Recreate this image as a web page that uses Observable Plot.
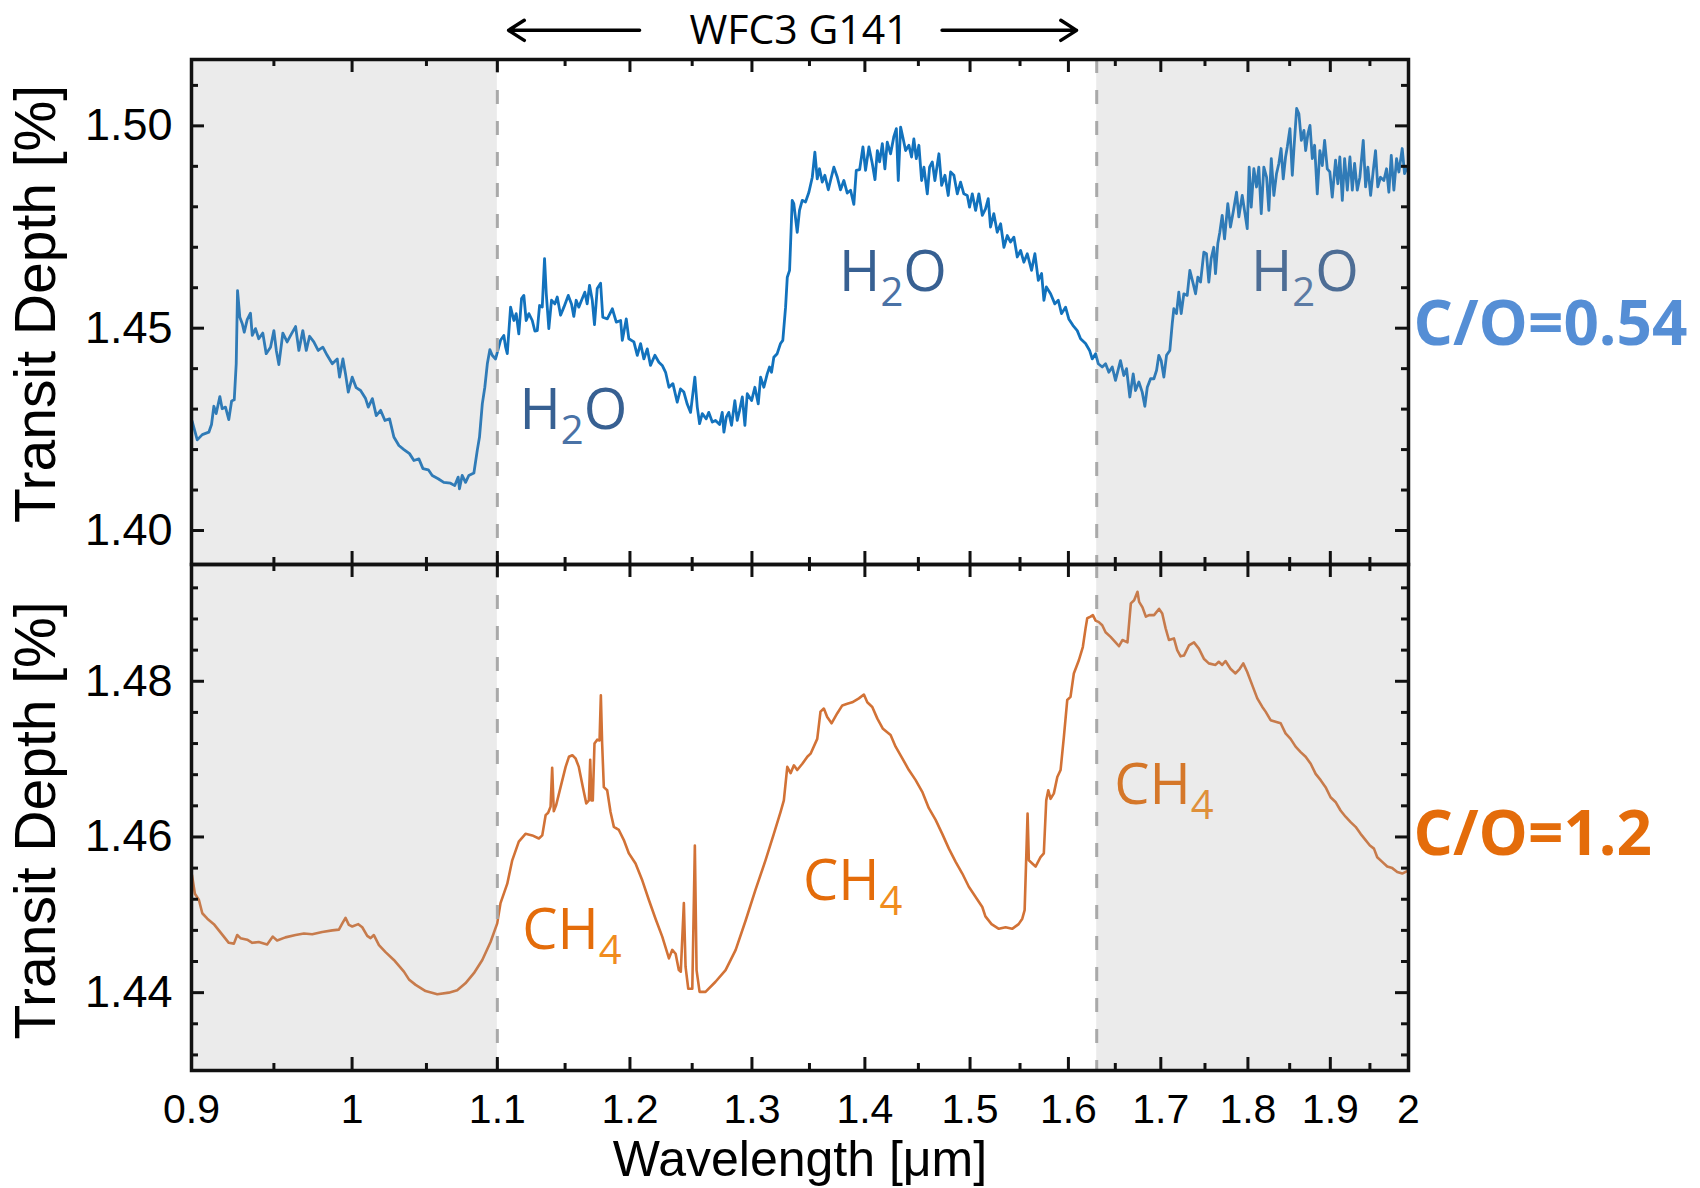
<!DOCTYPE html>
<html><head><meta charset="utf-8">
<script src="https://cdn.jsdelivr.net/npm/d3@7"></script>
<script src="https://cdn.jsdelivr.net/npm/@observablehq/plot@0.6"></script>
<style>
html,body{margin:0;padding:0;background:#fff;}
#wrap{position:relative;width:1700px;height:1188px;overflow:hidden;background:#fff;}
#top,#bot{position:absolute;left:0;}
#top{top:0;} #bot{top:564px;}
svg{overflow:visible;}
</style></head><body>
<div id="wrap"><div id="top"></div><div id="bot"></div></div>
<script>
// ---------- data: [wavelength (µm), transit depth (%)] ----------
const spectrumCO054 = [
[0.9004,1.4270],[0.9034,1.4224],[0.9064,1.4237],[0.9103,1.4243],[0.9119,1.4262],[0.9133,1.4307],[0.9147,1.4289],[0.9169,1.4331],[0.9183,1.4301],[0.9203,1.4305],
[0.9223,1.4274],[0.9240,1.4320],[0.9256,1.4323],[0.9268,1.4412],[0.9276,1.4593],[0.9290,1.4527],[0.9305,1.4511],[0.9317,1.4490],[0.9335,1.4521],[0.9355,1.4537],
[0.9366,1.4482],[0.9386,1.4499],[0.9406,1.4474],[0.9431,1.4488],[0.9452,1.4437],[0.9479,1.4453],[0.9500,1.4494],[0.9515,1.4445],[0.9531,1.4410],[0.9556,1.4488],
[0.9583,1.4466],[0.9610,1.4486],[0.9636,1.4504],[0.9657,1.4445],[0.9682,1.4494],[0.9704,1.4445],[0.9725,1.4480],[0.9752,1.4466],[0.9780,1.4445],[0.9810,1.4453],
[0.9838,1.4433],[0.9871,1.4412],[0.9903,1.4424],[0.9918,1.4379],[0.9940,1.4424],[0.9957,1.4387],[0.9975,1.4342],[1.0001,1.4379],[1.0027,1.4353],[1.0056,1.4346],
[1.0089,1.4326],[1.0107,1.4305],[1.0134,1.4326],[1.0160,1.4284],[1.0189,1.4297],[1.0218,1.4272],[1.0249,1.4276],[1.0278,1.4231],[1.0312,1.4210],[1.0346,1.4200],
[1.0384,1.4190],[1.0414,1.4173],[1.0448,1.4177],[1.0476,1.4153],[1.0513,1.4150],[1.0540,1.4136],[1.0581,1.4128],[1.0620,1.4119],[1.0667,1.4117],[1.0697,1.4111],
[1.0721,1.4132],[1.0730,1.4103],[1.0749,1.4136],[1.0773,1.4119],[1.0796,1.4136],[1.0832,1.4142],[1.0856,1.4198],[1.0872,1.4231],[1.0892,1.4313],[1.0910,1.4354],
[1.0928,1.4412],[1.0946,1.4447],[1.0963,1.4433],[1.0987,1.4424],[1.1023,1.4470],[1.1047,1.4482],
[1.1060,1.4453],[1.1072,1.4437],[1.1096,1.4552],[1.1120,1.4519],[1.1137,1.4536],[1.1156,1.4486],[1.1176,1.4573],[1.1193,1.4581],[1.1210,1.4519],[1.1230,1.4536],
[1.1255,1.4519],[1.1274,1.4493],[1.1292,1.4494],[1.1309,1.4556],[1.1329,1.4552],[1.1346,1.4672],[1.1359,1.4585],[1.1378,1.4499],[1.1398,1.4569],[1.1423,1.4560],
[1.1441,1.4577],[1.1466,1.4532],[1.1491,1.4552],[1.1524,1.4581],[1.1549,1.4559],[1.1566,1.4529],[1.1584,1.4569],[1.1604,1.4552],[1.1625,1.4569],[1.1650,1.4589],
[1.1668,1.4560],[1.1686,1.4606],[1.1707,1.4569],[1.1724,1.4509],[1.1745,1.4598],[1.1771,1.4611],[1.1788,1.4527],[1.1823,1.4523],[1.1862,1.4548],[1.1893,1.4515],
[1.1927,1.4519],[1.1940,1.4470],[1.1971,1.4523],[1.1991,1.4474],[1.2031,1.4466],[1.2058,1.4433],[1.2084,1.4462],[1.2110,1.4424],[1.2137,1.4449],[1.2163,1.4408],
[1.2198,1.4433],[1.2230,1.4416],[1.2257,1.4408],[1.2284,1.4391],[1.2311,1.4354],[1.2343,1.4363],[1.2378,1.4317],[1.2405,1.4350],[1.2432,1.4342],[1.2460,1.4312],
[1.2487,1.4292],[1.2522,1.4379],[1.2542,1.4305],[1.2561,1.4264],[1.2583,1.4289],[1.2616,1.4276],[1.2637,1.4292],[1.2666,1.4268],[1.2693,1.4272],[1.2727,1.4262],
[1.2749,1.4292],[1.2763,1.4243],[1.2783,1.4280],[1.2804,1.4292],[1.2827,1.4260],[1.2855,1.4321],[1.2875,1.4272],[1.2895,1.4297],[1.2918,1.4330],[1.2940,1.4260],
[1.2960,1.4338],[1.2997,1.4321],[1.3025,1.4354],[1.3054,1.4313],[1.3074,1.4379],[1.3102,1.4354],[1.3131,1.4387],[1.3151,1.4404],[1.3168,1.4391],[1.3188,1.4428],
[1.3217,1.4437],[1.3246,1.4462],[1.3266,1.4470],[1.3290,1.4552],[1.3305,1.4626],[1.3325,1.4643],[1.3348,1.4816],[1.3362,1.4808],[1.3392,1.4737],[1.3412,1.4791],
[1.3436,1.4816],[1.3465,1.4812],
[1.3495,1.4836],[1.3525,1.4873],[1.3548,1.4935],[1.3569,1.4869],[1.3589,1.4894],[1.3614,1.4861],[1.3637,1.4878],[1.3668,1.4842],[1.3688,1.4865],[1.3718,1.4898],
[1.3749,1.4873],[1.3778,1.4842],[1.3808,1.4865],[1.3839,1.4834],[1.3869,1.4841],[1.3899,1.4806],[1.3921,1.4890],[1.3952,1.4892],[1.3982,1.4948],[1.4006,1.4890],
[1.4037,1.4948],[1.4068,1.4907],[1.4093,1.4867],[1.4115,1.4939],[1.4136,1.4911],[1.4161,1.4956],[1.4185,1.4894],[1.4207,1.4960],[1.4238,1.4931],[1.4269,1.4974],
[1.4292,1.4993],[1.4310,1.4865],[1.4332,1.4997],[1.4353,1.4972],[1.4379,1.4939],[1.4410,1.4952],[1.4435,1.4923],[1.4457,1.4968],[1.4480,1.4919],[1.4505,1.4952],
[1.4531,1.4865],[1.4553,1.4898],[1.4585,1.4832],[1.4607,1.4898],[1.4633,1.4911],[1.4658,1.4865],[1.4697,1.4931],[1.4723,1.4853],[1.4755,1.4878],[1.4787,1.4828],
[1.4810,1.4886],[1.4842,1.4878],[1.4875,1.4832],[1.4907,1.4861],[1.4939,1.4832],[1.4973,1.4828],[1.4995,1.4799],[1.5022,1.4832],[1.5055,1.4791],[1.5087,1.4832],
[1.5121,1.4779],[1.5153,1.4795],[1.5180,1.4820],[1.5203,1.4750],[1.5236,1.4783],[1.5270,1.4737],[1.5304,1.4758],[1.5337,1.4700],[1.5371,1.4729],[1.5404,1.4713],
[1.5438,1.4725],[1.5472,1.4676],[1.5506,1.4692],[1.5539,1.4663],[1.5574,1.4684],[1.5618,1.4643],[1.5652,1.4684],[1.5687,1.4618],[1.5721,1.4635],[1.5745,1.4569],
[1.5770,1.4602],[1.5814,1.4585],[1.5858,1.4560],[1.5894,1.4569],[1.5928,1.4536],[1.5970,1.4552],[1.6004,1.4523],[1.6047,1.4507],[1.6093,1.4494],[1.6128,1.4474],
[1.6181,1.4462],[1.6224,1.4445],[1.6252,1.4424],[1.6288,1.4437],[1.6317,1.4412],[1.6359,1.4404],[1.6395,1.4412],[1.6430,1.4391],[1.6467,1.4404],[1.6502,1.4371],
[1.6556,1.4420],[1.6592,1.4383],
[1.6622,1.4400],[1.6658,1.4330],[1.6695,1.4387],[1.6720,1.4346],[1.6757,1.4367],[1.6794,1.4342],[1.6823,1.4307],[1.6850,1.4354],[1.6886,1.4375],[1.6923,1.4375],
[1.6953,1.4396],[1.6978,1.4433],[1.7004,1.4420],[1.7034,1.4379],[1.7064,1.4433],[1.7101,1.4445],[1.7128,1.4511],[1.7146,1.4548],[1.7176,1.4536],[1.7202,1.4589],
[1.7229,1.4536],[1.7259,1.4585],[1.7297,1.4581],[1.7327,1.4643],[1.7365,1.4610],[1.7392,1.4585],[1.7418,1.4626],[1.7449,1.4614],[1.7487,1.4688],[1.7517,1.4684],
[1.7544,1.4614],[1.7571,1.4672],[1.7601,1.4700],[1.7621,1.4635],[1.7648,1.4709],[1.7671,1.4737],[1.7699,1.4779],[1.7726,1.4721],[1.7764,1.4808],[1.7795,1.4750],
[1.7827,1.4787],[1.7866,1.4836],[1.7893,1.4775],[1.7933,1.4828],[1.7960,1.4791],[1.7992,1.4746],[1.8015,1.4898],[1.8039,1.4799],[1.8070,1.4894],[1.8102,1.4849],
[1.8129,1.4898],[1.8158,1.4783],[1.8189,1.4898],[1.8222,1.4873],[1.8249,1.4791],[1.8278,1.4919],[1.8309,1.4828],[1.8341,1.4882],[1.8369,1.4907],[1.8396,1.4944],
[1.8422,1.4869],[1.8450,1.4923],[1.8471,1.4948],[1.8503,1.4993],[1.8532,1.4878],[1.8552,1.4944],[1.8585,1.5043],[1.8612,1.5030],[1.8642,1.4964],[1.8674,1.4989],
[1.8695,1.4939],[1.8723,1.4981],[1.8748,1.5001],[1.8777,1.4919],[1.8805,1.4952],[1.8838,1.4832],[1.8870,1.4939],[1.8900,1.4902],[1.8929,1.4964],[1.8962,1.4894],
[1.8994,1.4886],[1.9024,1.4824],[1.9065,1.4915],[1.9094,1.4857],[1.9119,1.4923],[1.9150,1.4816],[1.9179,1.4919],[1.9213,1.4841],[1.9246,1.4923],[1.9276,1.4841],
[1.9305,1.4907],[1.9339,1.4841],[1.9372,1.4873],[1.9415,1.4964],[1.9445,1.4849],[1.9474,1.4898],[1.9509,1.4828],[1.9543,1.4890],[1.9572,1.4939],[1.9601,1.4849],
[1.9636,1.4873],[1.9679,1.4865],[1.9714,1.4894],[1.9744,1.4836],[1.9775,1.4927],[1.9809,1.4841],[1.9844,1.4919],[1.9874,1.4886],[1.9918,1.4944],[1.9948,1.4882],
[1.9974,1.4894],[2.0000,1.4890]
];

const spectrumCO12 = [
[0.9003,1.4551],[0.9020,1.4527],[0.9044,1.4519],[0.9064,1.4502],[0.9094,1.4495],[0.9133,1.4488],[0.9163,1.4480],[0.9193,1.4472],[0.9223,1.4464],[0.9254,1.4463],
[0.9274,1.4474],[0.9294,1.4470],[0.9335,1.4468],[0.9366,1.4464],[0.9406,1.4465],[0.9458,1.4462],[0.9493,1.4472],[0.9520,1.4467],[0.9572,1.4471],[0.9636,1.4474],
[0.9689,1.4476],[0.9742,1.4475],[0.9806,1.4478],[0.9871,1.4480],[0.9914,1.4481],[0.9936,1.4489],[0.9957,1.4496],[0.9979,1.4487],[1.0001,1.4485],[1.0041,1.4488],
[1.0067,1.4484],[1.0100,1.4473],[1.0122,1.4470],[1.0144,1.4474],[1.0178,1.4461],[1.0222,1.4452],[1.0278,1.4442],[1.0346,1.4427],[1.0380,1.4417],[1.0426,1.4410],
[1.0494,1.4402],[1.0575,1.4398],[1.0655,1.4400],[1.0714,1.4403],[1.0772,1.4412],[1.0832,1.4425],[1.0892,1.4442],[1.0951,1.4465],[1.0999,1.4489],[1.1023,1.4515],
[1.1072,1.4540],[1.1108,1.4570],[1.1156,1.4594],[1.1205,1.4604],[1.1255,1.4602],[1.1304,1.4598],[1.1329,1.4602],[1.1354,1.4628],[1.1373,1.4631],[1.1391,1.4639],
[1.1403,1.4689],[1.1415,1.4633],[1.1433,1.4641],[1.1466,1.4664],[1.1504,1.4690],[1.1529,1.4703],[1.1555,1.4705],[1.1579,1.4701],[1.1604,1.4690],[1.1635,1.4664],
[1.1661,1.4643],[1.1681,1.4647],[1.1691,1.4699],[1.1701,1.4647],[1.1711,1.4647],[1.1724,1.4720],[1.1745,1.4725],[1.1763,1.4724],[1.1773,1.4782],[1.1783,1.4720],
[1.1796,1.4664],[1.1822,1.4660],[1.1848,1.4632],[1.1874,1.4613],[1.1913,1.4609],[1.1952,1.4596],[1.1991,1.4579],[1.2044,1.4566],[1.2098,1.4544],[1.2150,1.4519],
[1.2203,1.4495],[1.2257,1.4472],[1.2311,1.4444],[1.2338,1.4455],[1.2365,1.4450],[1.2391,1.4429],[1.2407,1.4427],[1.2432,1.4515],[1.2446,1.4433],[1.2468,1.4405],
[1.2501,1.4405],[1.2522,1.4589],[1.2536,1.4429],[1.2561,1.4401],[1.2610,1.4401],[1.2693,1.4414],[1.2777,1.4429],[1.2862,1.4455],[1.2947,1.4493],[1.3030,1.4532],
[1.3116,1.4570],[1.3188,1.4604],[1.3246,1.4632],[1.3275,1.4647],[1.3305,1.4690],[1.3334,1.4682],[1.3363,1.4692],[1.3392,1.4686],[1.3437,1.4694],[1.3481,1.4703],
[1.3510,1.4707],[1.3569,1.4726],[1.3598,1.4761],[1.3628,1.4765],[1.3658,1.4754],[1.3697,1.4746],[1.3749,1.4759],[1.3794,1.4769],[1.3839,1.4771],[1.3884,1.4773],
[1.3945,1.4778],[1.3991,1.4783],[1.4022,1.4773],[1.4068,1.4767],[1.4115,1.4752],[1.4167,1.4739],[1.4238,1.4731],[1.4285,1.4716],[1.4348,1.4701],[1.4410,1.4686],
[1.4474,1.4673],[1.4537,1.4658],[1.4600,1.4637],[1.4665,1.4622],[1.4729,1.4604],[1.4793,1.4585],[1.4859,1.4568],[1.4924,1.4553],[1.4988,1.4536],[1.5055,1.4523],
[1.5121,1.4510],[1.5152,1.4498],[1.5213,1.4488],[1.5286,1.4482],[1.5354,1.4484],[1.5420,1.4482],[1.5486,1.4488],[1.5523,1.4495],[1.5547,1.4506],[1.5577,1.4630],
[1.5590,1.4570],[1.5625,1.4566],[1.5659,1.4562],[1.5710,1.4574],[1.5744,1.4579],[1.5769,1.4647],[1.5790,1.4660],[1.5814,1.4649],[1.5848,1.4656],[1.5884,1.4677],
[1.5918,1.4686],[1.5952,1.4728],[1.5988,1.4776],[1.6022,1.4780],[1.6057,1.4810],[1.6110,1.4827],[1.6152,1.4844],[1.6181,1.4868],[1.6199,1.4881],[1.6234,1.4883],
[1.6259,1.4885],[1.6288,1.4878],[1.6323,1.4876],[1.6359,1.4872],[1.6395,1.4863],[1.6449,1.4857],[1.6503,1.4850],[1.6540,1.4845],[1.6577,1.4853],[1.6632,1.4850],
[1.6669,1.4900],[1.6705,1.4904],[1.6742,1.4915],[1.6760,1.4902],[1.6797,1.4895],[1.6834,1.4883],[1.6870,1.4885],[1.6925,1.4885],[1.6981,1.4893],[1.7016,1.4887],
[1.7054,1.4868],[1.7091,1.4853],[1.7147,1.4855],[1.7184,1.4840],[1.7222,1.4832],[1.7260,1.4833],[1.7317,1.4846],[1.7374,1.4850],[1.7430,1.4842],[1.7487,1.4829],
[1.7544,1.4823],[1.7621,1.4821],[1.7659,1.4825],[1.7699,1.4821],[1.7737,1.4826],[1.7795,1.4816],[1.7854,1.4810],[1.7904,1.4816],[1.7945,1.4823],[1.7992,1.4812],
[1.8051,1.4795],[1.8111,1.4778],[1.8171,1.4767],[1.8210,1.4761],[1.8270,1.4750],[1.8330,1.4748],[1.8391,1.4746],[1.8450,1.4733],[1.8511,1.4726],[1.8572,1.4716],
[1.8634,1.4709],[1.8695,1.4703],[1.8757,1.4694],[1.8818,1.4681],[1.8880,1.4673],[1.8941,1.4664],[1.9003,1.4651],[1.9065,1.4645],[1.9128,1.4634],[1.9191,1.4626],
[1.9255,1.4619],[1.9318,1.4613],[1.9381,1.4604],[1.9445,1.4596],[1.9500,1.4589],[1.9552,1.4585],[1.9594,1.4574],[1.9658,1.4568],[1.9723,1.4562],[1.9788,1.4560],
[1.9853,1.4555],[1.9918,1.4553],[2.0000,1.4557]
];

// axis ticks
const xDomain = [0.9, 2.0];
const xMajorTicks = [0.9, 1, 1.1, 1.2, 1.3, 1.4, 1.5, 1.6, 1.7, 1.8, 1.9, 2];
const xTickLabels = ["0.9", "1", "1.1", "1.2", "1.3", "1.4", "1.5", "1.6", "1.7", "1.8", "1.9", "2"];
const xMinorTicks = [0.95, 1.05, 1.15, 1.25, 1.35, 1.45, 1.55, 1.65, 1.75, 1.85, 1.95];
const yDomainTop = [1.3916, 1.5164];
const yMajorTop = [1.40, 1.45, 1.50];
const yMinorTop = [1.41, 1.42, 1.43, 1.44, 1.46, 1.47, 1.48, 1.49, 1.51];
const yDomainBot = [1.4300, 1.4950];
const yMajorBot = [1.44, 1.46, 1.48];
const yMinorBot = [1.432, 1.436, 1.444, 1.448, 1.452, 1.456, 1.464, 1.468, 1.472, 1.476, 1.484, 1.488, 1.492];

// shaded regions outside WFC3 G141 and boundaries
const shadedRanges = [[0.9, 1.1], [1.63, 2.0]];
const boundaries = [1.1, 1.63];

// labels
const moleculesTop = [
  {label: "H2O", w: 1.1161, d: 1.4294},
  {label: "H2O", w: 1.3765, d: 1.4636},
  {label: "H2O", w: 1.8037, d: 1.4636}
];
const moleculesBot = [
  {label: "CH4", w: 1.1181, d: 1.4479},
  {label: "CH4", w: 1.3443, d: 1.4542},
  {label: "CH4", w: 1.6489, d: 1.4665}
];
const instrumentLabel = [{label: "WFC3 G141", w: 1.3408}];
const instrumentArrows = [{w1: 1.2076, w2: 1.1081, d: 1.5236}, {w1: 1.4727, w2: 1.6086, d: 1.5236}];
const ratioTop = [{label: "C/O=0.54", d: 1.4507}];
const ratioBot = [{label: "C/O=1.2", d: 1.4602}];

// ---------- styles ----------
const FONT = "'Liberation Sans', Arial, Helvetica, sans-serif";
const ANN = "'Open Sans', 'Noto Sans', sans-serif";
const W = 1700, ML = 191, MR = 292;
const FW = W - ML - MR;          // frame width
const INK = "#111";
const MAJ = 13, MIN = 7;

function frameTicks(fh, yMaj, yMin) {
  const s = {stroke: INK, strokeWidth: 3};
  return [
    Plot.ruleX(xMajorTicks, {...s, insetBottom: fh - MAJ}),
    Plot.ruleX(xMinorTicks, {...s, insetBottom: fh - MIN}),
    Plot.ruleX(xMajorTicks, {...s, insetTop: fh - MAJ}),
    Plot.ruleX(xMinorTicks, {...s, insetTop: fh - MIN}),
    Plot.ruleY(yMaj, {...s, insetRight: FW - MAJ}),
    Plot.ruleY(yMin, {...s, insetRight: FW - MIN}),
    Plot.ruleY(yMaj, {...s, insetLeft: FW - MAJ}),
    Plot.ruleY(yMin, {...s, insetLeft: FW - MIN})
  ];
}
function shading(yd) {
  return Plot.rect(shadedRanges, {x1: d => d[0], x2: d => d[1], y1: yd[0], y2: yd[1], fill: "#a1a1a1", fillOpacity: 0.21});
}
const dashed = Plot.ruleX(boundaries, {stroke: "#a9a9a9", strokeWidth: 3, strokeDasharray: "14,17"});
function yTitle(dy) {
  return Plot.text(["Transit Depth [%]"], {text: d => d, frameAnchor: "left", rotate: -90, dx: -155, dy,
    textAnchor: "middle", lineAnchor: "middle", fontSize: 57, fontFamily: FONT, fill: "#000"});
}

function subscriptify(svg, subColor) {
  d3.select(svg).selectAll('g[aria-description="molecule"] text').each(function () {
    const el = d3.select(this);
    const s = el.text();
    const m = s.match(/^(\D+)(\d)(\D*)$/);
    if (!m) return;
    el.text(null);
    el.append("tspan").text(m[1]);
    el.append("tspan").attr("font-size", 40).attr("dy", 15).attr("fill", subColor).text(m[2]);
    if (m[3]) el.append("tspan").attr("font-size", 56).attr("dy", -15).text(m[3]);
  });
}

// ---------- top panel ----------
const topH = 564, topMT = 59;
const topPlot = Plot.plot({
  width: W, height: topH, marginLeft: ML, marginRight: MR, marginTop: topMT, marginBottom: 0,
  style: {fontFamily: FONT, color: "#000", background: "transparent", overflow: "visible"},
  x: {type: "log", domain: xDomain, axis: null},
  y: {domain: yDomainTop},
  marks: [
    Plot.line(spectrumCO054, {x: d => d[0], y: d => d[1], stroke: "#1272bd", strokeWidth: 2.8}),
    Plot.text(moleculesTop, {x: "w", y: "d", text: "label", textAnchor: "start", lineAnchor: "middle",
      fontSize: 56, fontFamily: ANN, fill: "#376092", ariaDescription: "molecule"}),
    shading(yDomainTop),
    dashed,
    ...frameTicks(topH - topMT, yMajorTop, yMinorTop),
    Plot.frame({stroke: INK, strokeWidth: 3.5}),
    Plot.axisY({ticks: yMajorTop, tickSize: 0, tickPadding: 19, tickFormat: d => d.toFixed(2),
      fontSize: 45, fontFamily: FONT, label: null}),
    yTitle(-8),
    Plot.text(ratioTop, {y: "d", text: "label", frameAnchor: "right", dx: 5, textAnchor: "start",
      lineAnchor: "middle", fontSize: 62, fontWeight: "bold", fontFamily: ANN, fill: "#558ed5"}),
    Plot.text(instrumentLabel, {x: "w", text: "label", frameAnchor: "top", dy: -29, lineAnchor: "middle",
      fontSize: 41, fontFamily: ANN, fill: "#000"}),
    Plot.arrow(instrumentArrows, {x1: "w1", x2: "w2", y1: "d", y2: "d", stroke: "#000",
      strokeWidth: 3.5, headLength: 8, headAngle: 65})
  ]
});
subscriptify(topPlot, "#4a72a6");
document.getElementById("top").appendChild(topPlot);

// ---------- bottom panel ----------
const botH = 624, botMB = 118;
const botPlot = Plot.plot({
  width: W, height: botH, marginLeft: ML, marginRight: MR, marginTop: 0, marginBottom: botMB,
  style: {fontFamily: FONT, color: "#000", background: "transparent", overflow: "visible"},
  x: {type: "log", domain: xDomain, axis: null},
  y: {domain: yDomainBot},
  marks: [
    Plot.line(spectrumCO12, {x: d => d[0], y: d => d[1], stroke: "#d27236", strokeWidth: 2.6}),
    Plot.text(moleculesBot, {x: "w", y: "d", text: "label", textAnchor: "start", lineAnchor: "middle",
      fontSize: 56, fontFamily: ANN, fill: "#e46c0a", ariaDescription: "molecule"}),
    shading(yDomainBot),
    dashed,
    ...frameTicks(botH - botMB, yMajorBot, yMinorBot),
    Plot.frame({stroke: INK, strokeWidth: 3.5}),
    Plot.axisY({ticks: yMajorBot, tickSize: 0, tickPadding: 19, tickFormat: d => d.toFixed(2),
      fontSize: 45, fontFamily: FONT, label: null}),
    Plot.text(xMajorTicks, {x: d => d, text: (d, i) => xTickLabels[i], frameAnchor: "bottom", dy: 23,
      lineAnchor: "top", textAnchor: "middle", fontSize: 41, fontFamily: FONT, fill: "#000"}),
    yTitle(3),
    Plot.text(["Wavelength [μm]"], {text: d => d, frameAnchor: "bottom", dy: 89, lineAnchor: "middle",
      textAnchor: "middle", fontSize: 50, fontFamily: FONT, fill: "#000"}),
    Plot.text(ratioBot, {y: "d", text: "label", frameAnchor: "right", dx: 5, textAnchor: "start",
      lineAnchor: "middle", fontSize: 62, fontWeight: "bold", fontFamily: ANN, fill: "#e46c0a"})
  ]
});
subscriptify(botPlot, "#f08c1e");
document.getElementById("bot").appendChild(botPlot);
</script>
</body></html>
